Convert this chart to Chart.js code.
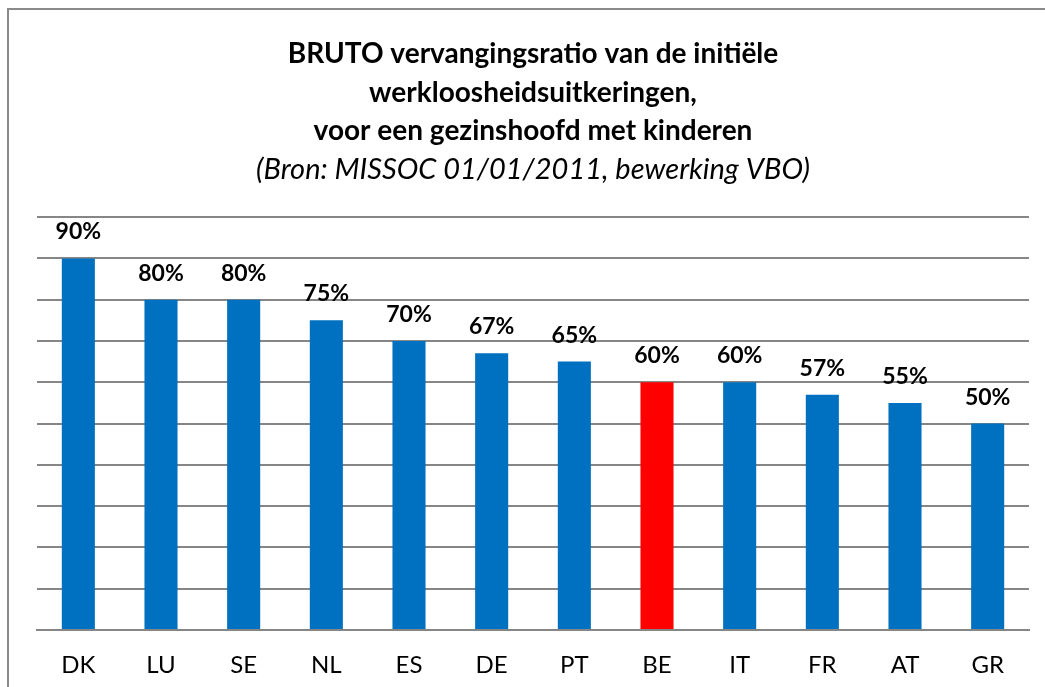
<!DOCTYPE html>
<html>
<head>
<meta charset="utf-8">
<script src="https://cdn.jsdelivr.net/npm/chart.js@4"></script>
<style>
  html, body { margin: 0; padding: 0; background: #ffffff; }
  #wrap { width: 1045px; height: 687px; position: relative; }
</style>
</head>
<body>
<div id="wrap"><canvas id="c" width="1045" height="687"></canvas></div>
<script>
const categories = ["DK", "LU", "SE", "NL", "ES", "DE", "PT", "BE", "IT", "FR", "AT", "GR"];
const ratios = [90, 80, 80, 75, 70, 67, 65, 60, 60, 57, 55, 50];
const highlightCategory = "BE";
const titleLines = [
  "BRUTO vervangingsratio van de initiële",
  "werkloosheidsuitkeringen,",
  "voor een gezinshoofd met kinderen"
];
const subtitleText = "(Bron: MISSOC 01/01/2011, bewerking VBO)";

const FONT = "Lato, 'Open Sans', sans-serif";
const BLUE = "#0070C0";
const RED = "#FF0000";
const GRID = "#868686";

const frame = {
  id: "frame",
  beforeDraw(chart) {
    const ctx = chart.ctx;
    ctx.save();
    ctx.fillStyle = "#ffffff";
    ctx.fillRect(0, 0, chart.width, chart.height);
    ctx.strokeStyle = "#8a8a8a";
    ctx.lineWidth = 2;
    ctx.strokeRect(8, 9, chart.width + 20, chart.height + 20);
    ctx.restore();
  }
};

const valueLabels = {
  id: "valueLabels",
  afterDatasetsDraw(chart) {
    const ctx = chart.ctx;
    const meta = chart.getDatasetMeta(0);
    ctx.save();
    ctx.font = "bold 23px " + FONT;
    ctx.fillStyle = "#000000";
    ctx.textAlign = "center";
    ctx.textBaseline = "alphabetic";
    meta.data.forEach((bar, i) => {
      ctx.fillText(ratios[i] + "%", bar.x, bar.y - 19);
    });
    ctx.restore();
  }
};

new Chart(document.getElementById("c"), {
  type: "bar",
  data: {
    labels: categories,
    datasets: [{
      data: ratios,
      backgroundColor: (c) => categories[c.dataIndex] === highlightCategory ? RED : BLUE,
      borderWidth: 0,
      categoryPercentage: 1.0,
      barPercentage: 0.4
    }]
  },
  options: {
    responsive: false,
    devicePixelRatio: 1,
    animation: false,
    layout: { padding: { left: 37, right: 16, top: 0, bottom: 0 } },
    plugins: {
      legend: { display: false },
      tooltip: { enabled: false },
      title: {
        display: true,
        text: titleLines,
        color: "#000000",
        font: { family: FONT, size: 28, weight: "bold", lineHeight: 38.4 / 28 },
        padding: { top: 35, bottom: 0 }
      },
      subtitle: {
        display: true,
        text: subtitleText,
        color: "#000000",
        font: { family: FONT, size: 29, style: "italic", lineHeight: 38.4 / 29 },
        padding: { top: 0, bottom: 28.5 }
      }
    },
    scales: {
      x: {
        grid: { display: false, drawTicks: false },
        border: { display: true, color: GRID, width: 2 },
        ticks: { color: "#000000", font: { family: FONT, size: 24 }, padding: 21 },
        afterFit: (s) => { s.height = 57; }
      },
      y: {
        min: 0,
        max: 100,
        ticks: { display: false, stepSize: 10 },
        grid: { color: GRID, lineWidth: 2, drawTicks: false },
        border: { display: false }
      }
    }
  },
  plugins: [frame, valueLabels]
});
</script>
</body>
</html>
